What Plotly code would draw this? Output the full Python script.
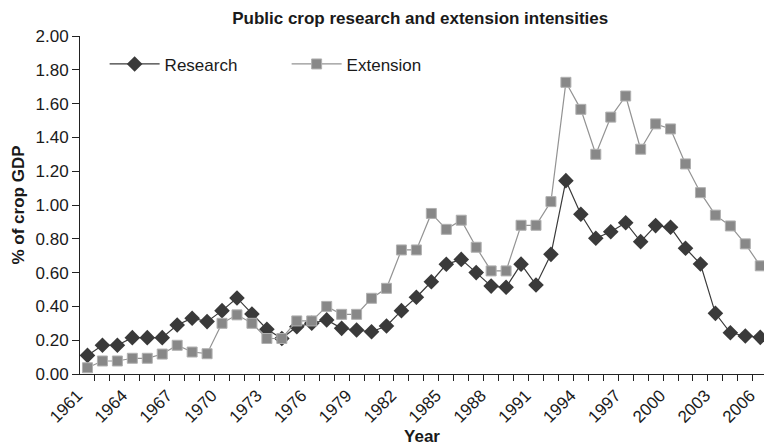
import plotly.graph_objects as go

years = list(range(1961, 2007))
research = [0.11, 0.17, 0.17, 0.215, 0.215, 0.215, 0.29, 0.33, 0.31, 0.375,
            0.45, 0.355, 0.265, 0.21, 0.28, 0.30, 0.32, 0.27, 0.26, 0.25,
            0.284, 0.375, 0.454, 0.546, 0.649, 0.678, 0.60, 0.52, 0.513, 0.65,
            0.527, 0.708, 1.144, 0.945, 0.803, 0.842, 0.895, 0.783, 0.878, 0.868,
            0.744, 0.651, 0.359, 0.244, 0.225, 0.217]
extension = [0.037, 0.077, 0.077, 0.093, 0.093, 0.118, 0.17, 0.13, 0.12, 0.30,
             0.35, 0.30, 0.21, 0.21, 0.314, 0.314, 0.40, 0.353, 0.353, 0.448,
             0.507, 0.734, 0.734, 0.95, 0.856, 0.91, 0.75, 0.61, 0.61, 0.88,
             0.88, 1.02, 1.726, 1.566, 1.30, 1.52, 1.645, 1.33, 1.48, 1.45,
             1.243, 1.073, 0.94, 0.876, 0.77, 0.64]
label_years = list(range(1961, 2007, 3))
y_ticks = [round(0.2 * i, 2) for i in range(11)]

font = "Liberation Sans, Arial, sans-serif"

fig = go.Figure()
fig.add_trace(go.Scatter(
    x=years, y=research, name="Research", mode="lines+markers",
    line=dict(color="#3a3a3a", width=1.2),
    marker=dict(symbol="diamond", size=12, color="#3a3a3a",
                line=dict(color="#3a3a3a", width=0)),
))
fig.add_trace(go.Scatter(
    x=years, y=extension, name="Extension", mode="lines+markers",
    line=dict(color="#939393", width=1.2),
    marker=dict(symbol="square", size=10, color="#888888",
                line=dict(color="#b0b0b0", width=1)),
))

fig.update_layout(
    width=764, height=446,
    margin=dict(l=80, r=0, t=36, b=72),
    paper_bgcolor="white", plot_bgcolor="white",
    font=dict(family=font, color="#1a1a1a", size=17),
    title=dict(text="<b>Public crop research and extension intensities</b>",
               x=0.55, xanchor="center", y=0.96, yanchor="middle",
               font=dict(size=17, color="#1a1a1a")),
    showlegend=True,
    legend=dict(orientation="h", x=0.036, xanchor="left", y=0.916, yanchor="middle",
                bgcolor="rgba(0,0,0,0)", font=dict(size=17), entrywidth=117,
                itemwidth=50),
)
fig.update_xaxes(
    range=[1960.5, 2006.25], tickmode="array",
    tickvals=label_years, ticklabelshift=-10, ticklabelstandoff=4,
    ticktext=[str(y) for y in label_years], tickangle=-45, ticks="",
    showline=True, linecolor="#222", linewidth=1, showgrid=False, zeroline=False,
    tickfont=dict(size=17), automargin=False,
    minor=dict(tickmode="array", tickvals=[y - 0.5 for y in range(1962, 2008)],
               ticks="outside", ticklen=6, tickcolor="#222", showgrid=False),
    title=dict(text="<b>Year</b>", font=dict(size=17), standoff=8),
)
fig.update_yaxes(
    range=[0, 2.0], tickmode="array", tickvals=y_ticks,
    ticktext=[f"{v:.2f}" for v in y_ticks], ticks="outside", ticklen=7,
    tickcolor="#222", showline=True, linecolor="#222", linewidth=1,
    showgrid=False, zeroline=False, tickfont=dict(size=17), automargin=False,
    title=dict(text="<b>% of crop GDP</b>", font=dict(size=17), standoff=6),
)

fig.write_html("out.html", config={"displayModeBar": False},
               post_script="document.body.style.margin='0';document.body.style.overflow='hidden';")
